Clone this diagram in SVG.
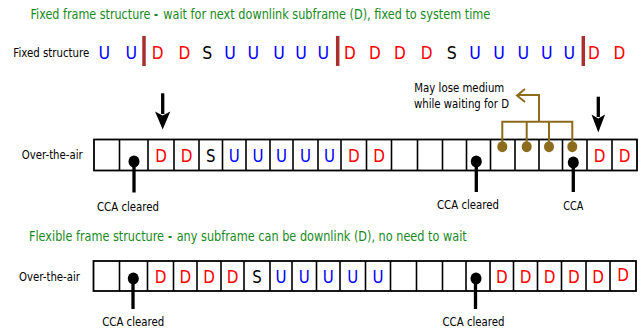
<svg xmlns="http://www.w3.org/2000/svg" width="644" height="332" viewBox="0 0 644 332">
  <style>
    text { font-family: "DejaVu Sans", "Liberation Sans", sans-serif; }
    .title { font-size: 14px; fill: #16891a; }
    .dash { font-size: 14px; fill: #16891a; font-weight: bold; }
    .lbl { font-size: 13px; fill: #000; }
    .note { font-size: 12px; fill: #000; }
    .cca { font-size: 12px; fill: #000; text-anchor: middle; }
    .big { font-size: 18px; text-anchor: middle; }
    .cl { font-size: 17px; text-anchor: middle; }
    .d { fill: #ff0000; }
    .u { fill: #0000ff; }
    .s { fill: #000; }
    .frame { fill: #fff; stroke: #000; stroke-width: 1.8; }
    .div { fill: none; stroke: #000; stroke-width: 1.6; }
    .bar { stroke: #a8302e; stroke-width: 3.5; }
    .stem { stroke: #000; stroke-width: 3.3; }
    .dot { fill: #000; }
    .bdot { fill: #8c6b1c; }
    .bline { fill: none; stroke: #8c6b1c; stroke-width: 2; }
    .arrow { fill: #000; stroke: none; }
  </style>

  <!-- headings (narrowed horizontally) -->
  <g id="heading-fixed">
    <text class="title" transform="translate(30.5 18.5) scale(0.78 1)" textLength="153.8" lengthAdjust="spacingAndGlyphs">Fixed frame structure</text>
    <text class="dash" transform="translate(154 18.5) scale(0.78 1)" textLength="5.1" lengthAdjust="spacingAndGlyphs">-</text>
    <text class="title" transform="translate(163.3 18.5) scale(0.78 1)" textLength="419.2" lengthAdjust="spacingAndGlyphs">wait for next downlink subframe (D), fixed to system time</text>
  </g>
  <g id="heading-flexible">
    <text class="title" transform="translate(29 240.5) scale(0.78 1)" textLength="173.1" lengthAdjust="spacingAndGlyphs">Flexible frame structure</text>
    <text class="dash" transform="translate(168 240.5) scale(0.78 1)" textLength="5.1" lengthAdjust="spacingAndGlyphs">-</text>
    <text class="title" transform="translate(176.7 240.5) scale(0.78 1)" textLength="371.8" lengthAdjust="spacingAndGlyphs">any subframe can be downlink (D), no need to wait</text>
  </g>

  <!-- fixed structure sequence -->
  <g id="fixed-structure">
    <text class="lbl" transform="translate(13.3 57) scale(0.78 1)" textLength="97.4" lengthAdjust="spacingAndGlyphs">Fixed structure</text>
    <line class="bar" x1="144" y1="36" x2="144" y2="66"/>
    <line class="bar" x1="337.7" y1="36" x2="337.7" y2="66"/>
    <line class="bar" x1="583.3" y1="36" x2="583.3" y2="66"/>
    <g>
      <text class="big u" x="104.3" y="59" textLength="11.6" lengthAdjust="spacingAndGlyphs">U</text>
      <text class="big u" x="131.3" y="59" textLength="11.6" lengthAdjust="spacingAndGlyphs">U</text>
      <text class="big d" x="157.7" y="59" textLength="11.8" lengthAdjust="spacingAndGlyphs">D</text>
      <text class="big d" x="184.3" y="59" textLength="11.8" lengthAdjust="spacingAndGlyphs">D</text>
      <text class="big s" x="207.3" y="59" textLength="10" lengthAdjust="spacingAndGlyphs">S</text>
      <text class="big u" x="230" y="59" textLength="11.6" lengthAdjust="spacingAndGlyphs">U</text>
      <text class="big u" x="253.3" y="59" textLength="11.6" lengthAdjust="spacingAndGlyphs">U</text>
      <text class="big u" x="279" y="59" textLength="11.6" lengthAdjust="spacingAndGlyphs">U</text>
      <text class="big u" x="301" y="59" textLength="11.6" lengthAdjust="spacingAndGlyphs">U</text>
      <text class="big u" x="323.3" y="59" textLength="11.6" lengthAdjust="spacingAndGlyphs">U</text>
      <text class="big d" x="350" y="59" textLength="11.8" lengthAdjust="spacingAndGlyphs">D</text>
      <text class="big d" x="375" y="59" textLength="11.8" lengthAdjust="spacingAndGlyphs">D</text>
      <text class="big d" x="400" y="59" textLength="11.8" lengthAdjust="spacingAndGlyphs">D</text>
      <text class="big d" x="426.7" y="59" textLength="11.8" lengthAdjust="spacingAndGlyphs">D</text>
      <text class="big s" x="451.7" y="59" textLength="10" lengthAdjust="spacingAndGlyphs">S</text>
      <text class="big u" x="475" y="59" textLength="11.6" lengthAdjust="spacingAndGlyphs">U</text>
      <text class="big u" x="499" y="59" textLength="11.6" lengthAdjust="spacingAndGlyphs">U</text>
      <text class="big u" x="523.3" y="59" textLength="11.6" lengthAdjust="spacingAndGlyphs">U</text>
      <text class="big u" x="546.7" y="59" textLength="11.6" lengthAdjust="spacingAndGlyphs">U</text>
      <text class="big u" x="569.3" y="59" textLength="11.6" lengthAdjust="spacingAndGlyphs">U</text>
      <text class="big d" x="594" y="59" textLength="11.8" lengthAdjust="spacingAndGlyphs">D</text>
      <text class="big d" x="619.3" y="59" textLength="11.8" lengthAdjust="spacingAndGlyphs">D</text>
    </g>
  </g>

  <!-- over-the-air timeline, fixed frame -->
  <g id="air-fixed">
    <text class="lbl" x="21.7" y="159" textLength="61" lengthAdjust="spacingAndGlyphs">Over-the-air</text>
    <rect class="frame" x="94" y="139.5" width="543" height="31"/>
    <path class="div" d="M119.5,139.5V170.5M148,139.5V170.5M174,139.5V170.5M199,139.5V170.5M222.5,139.5V170.5M246,139.5V170.5M270,139.5V170.5M293,139.5V170.5M318,139.5V170.5M341,139.5V170.5M366.5,139.5V170.5M391.5,139.5V170.5M417.5,139.5V170.5M442.5,139.5V170.5M466.5,139.5V170.5M490.5,139.5V170.5M515,139.5V170.5M539,139.5V170.5M562.5,139.5V170.5M587,139.5V170.5M612,139.5V170.5"/>
    <text class="cl d" x="161" y="162" textLength="11.7" lengthAdjust="spacingAndGlyphs">D</text>
    <text class="cl d" x="186.5" y="162" textLength="11.7" lengthAdjust="spacingAndGlyphs">D</text>
    <text class="cl s" x="210.8" y="162" textLength="9.5" lengthAdjust="spacingAndGlyphs">S</text>
    <text class="cl u" x="234.3" y="162" textLength="11" lengthAdjust="spacingAndGlyphs">U</text>
    <text class="cl u" x="258" y="162" textLength="11" lengthAdjust="spacingAndGlyphs">U</text>
    <text class="cl u" x="281.5" y="162" textLength="11" lengthAdjust="spacingAndGlyphs">U</text>
    <text class="cl u" x="305.5" y="162" textLength="11" lengthAdjust="spacingAndGlyphs">U</text>
    <text class="cl u" x="329.5" y="162" textLength="11" lengthAdjust="spacingAndGlyphs">U</text>
    <text class="cl d" x="353.8" y="162" textLength="11.7" lengthAdjust="spacingAndGlyphs">D</text>
    <text class="cl d" x="379" y="162" textLength="11.7" lengthAdjust="spacingAndGlyphs">D</text>
    <text class="cl d" x="599.5" y="162" textLength="11.7" lengthAdjust="spacingAndGlyphs">D</text>
    <text class="cl d" x="624.5" y="162" textLength="11.7" lengthAdjust="spacingAndGlyphs">D</text>
  </g>

  <!-- over-the-air timeline, flexible frame -->
  <g id="air-flexible">
    <text class="lbl" x="19" y="281" textLength="61" lengthAdjust="spacingAndGlyphs">Over-the-air</text>
    <rect class="frame" x="93.5" y="261" width="542.5" height="30"/>
    <path class="div" d="M119.5,261V291M147.5,261V291M173.5,261V291M197,261V291M221,261V291M244,261V291M270,261V291M292,261V291M316.5,261V291M340,261V291M365.5,261V291M390.5,261V291M416.5,261V291M442.5,261V291M466,261V291M490,261V291M513.5,261V291M537.5,261V291M561.5,261V291M586,261V291M610,261V291"/>
    <text class="cl d" x="160.5" y="283" textLength="11.7" lengthAdjust="spacingAndGlyphs">D</text>
    <text class="cl d" x="185.3" y="283" textLength="11.7" lengthAdjust="spacingAndGlyphs">D</text>
    <text class="cl d" x="209" y="283" textLength="11.7" lengthAdjust="spacingAndGlyphs">D</text>
    <text class="cl d" x="232.5" y="283" textLength="11.7" lengthAdjust="spacingAndGlyphs">D</text>
    <text class="cl s" x="257" y="283" textLength="9.5" lengthAdjust="spacingAndGlyphs">S</text>
    <text class="cl u" x="281" y="283" textLength="11" lengthAdjust="spacingAndGlyphs">U</text>
    <text class="cl u" x="304.3" y="283" textLength="11" lengthAdjust="spacingAndGlyphs">U</text>
    <text class="cl u" x="328.3" y="283" textLength="11" lengthAdjust="spacingAndGlyphs">U</text>
    <text class="cl u" x="352.8" y="283" textLength="11" lengthAdjust="spacingAndGlyphs">U</text>
    <text class="cl u" x="378" y="283" textLength="11" lengthAdjust="spacingAndGlyphs">U</text>
    <text class="cl d" x="501.8" y="283" textLength="11.7" lengthAdjust="spacingAndGlyphs">D</text>
    <text class="cl d" x="525.5" y="283" textLength="11.7" lengthAdjust="spacingAndGlyphs">D</text>
    <text class="cl d" x="549.5" y="283" textLength="11.7" lengthAdjust="spacingAndGlyphs">D</text>
    <text class="cl d" x="573.8" y="283" textLength="11.7" lengthAdjust="spacingAndGlyphs">D</text>
    <text class="cl d" x="598" y="283" textLength="11.7" lengthAdjust="spacingAndGlyphs">D</text>
    <text class="cl d" x="623" y="280.5" textLength="11.7" lengthAdjust="spacingAndGlyphs">D</text>
  </g>

  <!-- CCA markers -->
  <g id="cca-fixed-1">
    <line class="stem" x1="134" y1="161.5" x2="134" y2="192.5"/>
    <ellipse class="dot" cx="134" cy="161.5" rx="5.5" ry="6"/>
    <text class="cca" x="128" y="211" textLength="62" lengthAdjust="spacingAndGlyphs">CCA cleared</text>
  </g>
  <g id="cca-fixed-2">
    <line class="stem" x1="476.3" y1="161.5" x2="476.3" y2="192"/>
    <ellipse class="dot" cx="476.3" cy="161.5" rx="5.5" ry="6"/>
    <text class="cca" x="468" y="209" textLength="62" lengthAdjust="spacingAndGlyphs">CCA cleared</text>
  </g>
  <g id="cca-fixed-3">
    <line class="stem" x1="573.3" y1="162.5" x2="573.3" y2="192"/>
    <ellipse class="dot" cx="573.3" cy="162.5" rx="5.5" ry="6"/>
    <text class="cca" x="573.3" y="210" textLength="20" lengthAdjust="spacingAndGlyphs">CCA</text>
  </g>
  <g id="cca-flex-1">
    <line class="stem" x1="133" y1="278.5" x2="133" y2="309"/>
    <ellipse class="dot" cx="133.3" cy="278.5" rx="5.5" ry="6"/>
    <text class="cca" x="133.2" y="326" textLength="62" lengthAdjust="spacingAndGlyphs">CCA cleared</text>
  </g>
  <g id="cca-flex-2">
    <line class="stem" x1="475.5" y1="278.5" x2="475.5" y2="309"/>
    <ellipse class="dot" cx="476" cy="278.5" rx="5.5" ry="6"/>
    <text class="cca" x="473.5" y="326" textLength="62" lengthAdjust="spacingAndGlyphs">CCA cleared</text>
  </g>

  <!-- waiting subframes: medium may be lost -->
  <g id="medium-loss">
    <path class="bline" d="M502.3,146.7V121.7M526.7,146.7V121.7M549,146.7V121.7M572.3,146.7V121.7M501.3,121.7H573.3M539,121.7V95H518"/>
    <path class="bline" d="M525,89L517,95.5L525,102"/>
    <ellipse class="bdot" cx="502.3" cy="146.7" rx="5" ry="5.5"/>
    <ellipse class="bdot" cx="526.7" cy="146.7" rx="5" ry="5.5"/>
    <ellipse class="bdot" cx="549" cy="146.7" rx="5" ry="5.5"/>
    <ellipse class="bdot" cx="572.3" cy="146.7" rx="5" ry="5.5"/>
    <text class="note" x="414.3" y="92.3" textLength="90" lengthAdjust="spacingAndGlyphs">May lose medium</text>
    <text class="note" x="414" y="107.7" textLength="95" lengthAdjust="spacingAndGlyphs">while waiting for D</text>
  </g>

  <!-- downlink start arrows -->
  <g id="connectors">
    <line class="stem" x1="162.7" y1="93.3" x2="162.7" y2="114"/>
    <path class="arrow" d="M155,111.5L162.7,129.5L170.3,111.5L162.7,115.5Z"/>
    <line class="stem" x1="598.3" y1="96.7" x2="598.3" y2="117"/>
    <path class="arrow" d="M591.5,114.5L598.3,132.5L605.1,114.5L598.3,118.5Z"/>
  </g>
</svg>
